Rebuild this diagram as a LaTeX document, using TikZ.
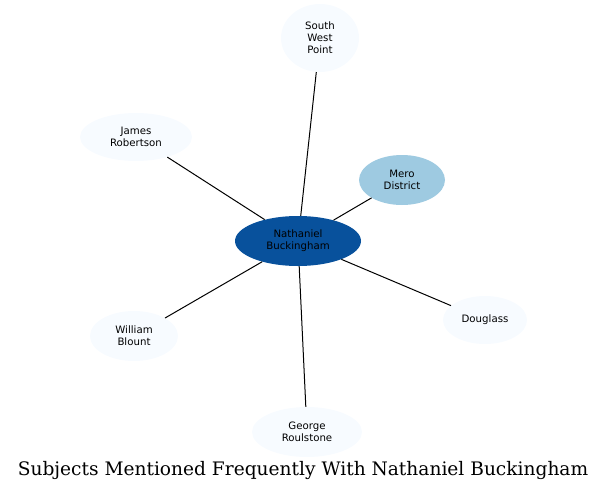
\documentclass[tikz,border=0pt]{standalone}
\usepackage{fontspec}
\newfontfamily\labelfont{DejaVu Sans}
\newfontfamily\titlefont{DejaVu Serif}
\usetikzlibrary{shapes.geometric}

\definecolor{hubblue}{HTML}{08519C}
\definecolor{midblue}{HTML}{9ECAE1}
\definecolor{paleblue}{HTML}{F7FBFF}

\begin{document}
\begin{tikzpicture}[
  x=1pt, y=-1pt,
  every node/.style={align=center},
  % Nodes (subjects) - filled ellipses, no outline
  subject/.style={ellipse, inner sep=0pt, font=\labelfont\fontsize{10.2}{12}\selectfont},
  % Edges (co-mentions) - plain thin lines
  link/.style={draw=black, line width=1pt}
]
\useasboundingbox (0,0) rectangle (608,493);

% === NODES (Subjects) ===

% Centre
\node[subject, fill=hubblue, minimum width=126, minimum height=50] (buckingham) at (298,241) {Nathaniel\\Buckingham};

% Surrounding subjects
\node[subject, fill=paleblue, minimum width=78, minimum height=68] (southwest) at (320,38) {South\\West\\Point};
\node[subject, fill=midblue, minimum width=86, minimum height=50] (mero) at (402,180) {Mero\\District};
\node[subject, fill=paleblue, minimum width=112, minimum height=48] (robertson) at (136,137) {James\\Robertson};
\node[subject, fill=paleblue, minimum width=88, minimum height=50] (blount) at (134,336) {William\\Blount};
\node[subject, fill=paleblue, minimum width=84, minimum height=48] (douglass) at (485,320) {Douglass};
\node[subject, fill=paleblue, minimum width=110, minimum height=50] (roulstone) at (307,432) {George\\Roulstone};

% === EDGES (Co-mentions) ===

\draw[link] (buckingham) -- (southwest);
\draw[link] (buckingham) -- (mero);
\draw[link] (buckingham) -- (robertson);
\draw[link] (buckingham) -- (blount);
\draw[link] (buckingham) -- (douglass);
\draw[link] (buckingham) -- (roulstone);

% === TITLE ===
\node[font=\titlefont\fontsize{18.6}{21}\selectfont] (title) at (303,470) {Subjects Mentioned Frequently With Nathaniel Buckingham};

\end{tikzpicture}
\end{document}
